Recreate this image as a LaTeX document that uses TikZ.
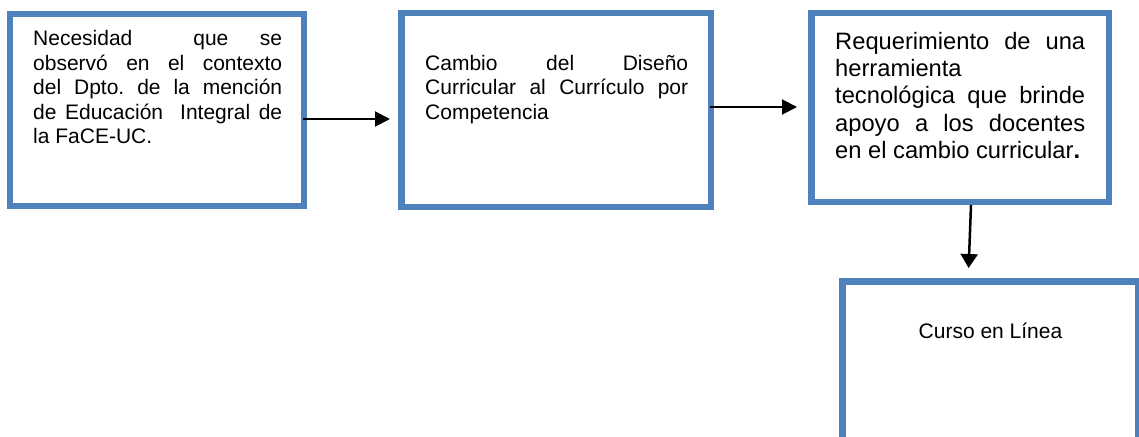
\documentclass[tikz,border=0pt]{standalone}
\usepackage{fontspec}
\setmainfont{Liberation Sans}
\usetikzlibrary{arrows.meta}
\definecolor{boxblue}{RGB}{79,129,189}
\frenchspacing
\begin{document}
\begin{tikzpicture}[x=1pt,y=-1pt,
  box/.style={draw=boxblue, line width=6.5pt, fill=white, inner sep=0pt},
  conn/.style={draw=black, line width=2pt, -{Triangle[length=15pt,width=15pt]}},
  connv/.style={draw=black, line width=2.5pt, -{Triangle[length=14pt,width=17pt]}},
  txt/.style={inner sep=0pt, anchor=base west, text=black}]
\useasboundingbox (0,0) rectangle (1139,436);
\begin{scope}
\clip (0,0) rectangle (1139,436);
\fill[white] (0,0) rectangle (1139,436);
% boxes
\node[box, minimum width=294pt, minimum height=192pt] (b1) at (157,110) {};
\node[box, minimum width=309.5pt, minimum height=193.5pt] (b2) at (556,110) {};
\node[box, minimum width=297.5pt, minimum height=188.5pt] (b3) at (960,107.5) {};
\node[box, minimum width=296pt, minimum height=190pt] (b4) at (990.25,376.25) {};
% texts
\node[txt] (t1) at (33,45.7) {\parbox[t]{249pt}{\fontsize{21pt}{24.5pt}\selectfont\frenchspacing
  \makebox[249pt]{Necesidad\hspace{61pt}que\hfill se}\\
  \makebox[249pt][s]{observó en el contexto}\\
  \makebox[249pt][s]{del Dpto. de la mención}\\
  \makebox[249pt][s]{de Educación\hspace{17pt}Integral de}\\
  la FaCE-UC.}};
\node[txt] (t2) at (425,70.7) {\parbox[t]{263pt}{\fontsize{21pt}{24.2pt}\selectfont
  \makebox[263pt][s]{Cambio del Diseño}\\
  \makebox[263pt][s]{Curricular al Currículo por}\\
  Competencia}};
\node[txt] (t3) at (835,49.3) {\parbox[t]{250pt}{\fontsize{23.7pt}{27.25pt}\selectfont
  \makebox[250pt][s]{Requerimiento de una}\\
  herramienta\\
  \makebox[250pt][s]{tecnológica que brinde}\\
  \makebox[250pt][s]{apoyo a los docentes}\\
  en el cambio curricular\textbf{.}}};
\node[inner sep=0pt, anchor=base, text=black, font=\fontsize{21pt}{25pt}\selectfont] (t4) at (990.5,338.5) {Curso en Línea};
% connectors
\draw[conn, shorten >=8pt] ([xshift=-4pt,yshift=-9pt]b1.east) -- ([yshift=-9pt]b1.east -| b2.west);
\draw[conn, shorten >=11pt] ([xshift=-4pt,yshift=3pt]b2.east) -- ([yshift=3pt]b2.east -| b3.west);
\draw[connv, shorten >=10pt] ([xshift=11pt]b3.south) -- ([xshift=-22pt]b4.north);
\end{scope}
\end{tikzpicture}
\end{document}
